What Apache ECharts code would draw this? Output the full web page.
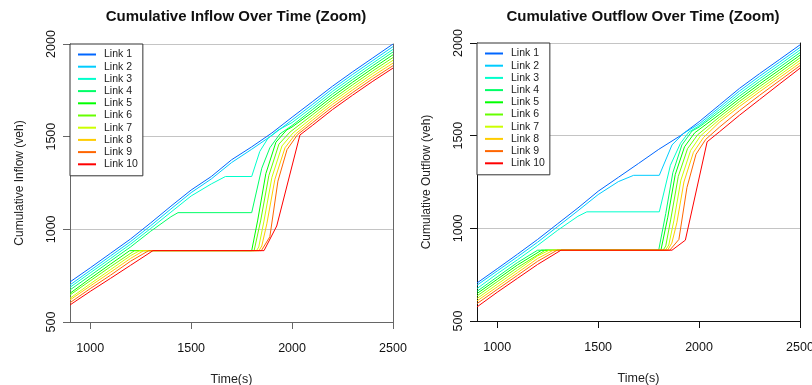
<!DOCTYPE html>
<html>
<head>
<meta charset="utf-8">
<script src="https://cdn.jsdelivr.net/npm/echarts@6/dist/echarts.min.js"></script>
<style>
  html, body { margin: 0; padding: 0; background: #fff; }
  #chart { width: 812px; height: 385px; }
</style>
</head>
<body>
<div id="chart"></div>
<script>
const linkNames = ['Link 1', 'Link 2', 'Link 3', 'Link 4', 'Link 5', 'Link 6', 'Link 7', 'Link 8', 'Link 9', 'Link 10'];
const linkColors = ['#0066FF', '#00CCFF', '#00FFCC', '#00FF66', '#00FF00', '#66FF00', '#CCFF00', '#FFCC00', '#FF6600', '#FF0000'];
const xTicks = [1000, 1500, 2000, 2500];

// cumulative inflow, [time, veh]
const inflowLink1 = [[900,716],[1000,792],[1100,870],[1200,948],[1300,1035],[1400,1125],[1500,1212],[1600,1285],[1700,1375],[1800,1445],[1900,1520],[2000,1605],[2100,1688],[2200,1772],[2300,1850],[2400,1925],[2500,2000]];
const inflowLink2 = [[900,700],[1000,778],[1100,856],[1200,934],[1300,1020],[1400,1110],[1500,1198],[1600,1272],[1700,1360],[1800,1432],[1900,1507],[2000,1590],[2100,1673],[2200,1758],[2300,1836],[2400,1911],[2500,1986]];
const inflowLink3 = [[900,687],[1000,765],[1100,842],[1200,920],[1300,1005],[1400,1093],[1500,1180],[1600,1245],[1670,1285],[1800,1285],[1840,1420],[1880,1490],[1930,1535],[2000,1576],[2100,1659],[2200,1744],[2300,1822],[2400,1897],[2500,1971]];
const inflowLink4 = [[900,673],[1000,750],[1100,828],[1200,905],[1300,990],[1400,1068],[1435,1090],[1800,1090],[1850,1330],[1890,1440],[1940,1515],[2000,1560],[2100,1645],[2200,1730],[2300,1808],[2400,1883],[2500,1957]];
const inflowLink5 = [[900,655],[1000,735],[1100,812],[1196,885],[1800,885],[1830,1050],[1870,1300],[1920,1470],[1973,1536],[2000,1552],[2100,1631],[2200,1716],[2300,1794],[2400,1869],[2500,1942]];
const inflowLink6 = [[900,646],[1000,722],[1100,798],[1220,885],[1812,885],[1845,1050],[1885,1290],[1935,1460],[1990,1525],[2100,1617],[2200,1702],[2300,1780],[2400,1855],[2500,1927]];
const inflowLink7 = [[900,628],[1000,706],[1100,782],[1200,858],[1245,885],[1824,885],[1835,905],[1860,1040],[1900,1280],[1950,1450],[2005,1520],[2100,1602],[2200,1688],[2300,1766],[2400,1841],[2500,1912]];
const inflowLink8 = [[900,619],[1000,694],[1100,768],[1200,843],[1265,885],[1836,885],[1850,910],[1875,1030],[1915,1270],[1965,1440],[2018,1515],[2100,1588],[2200,1674],[2300,1752],[2400,1827],[2500,1897]];
const inflowLink9 = [[900,604],[1000,680],[1100,752],[1200,828],[1290,885],[1848,885],[1890,960],[1930,1260],[1975,1430],[2028,1512],[2100,1574],[2200,1660],[2300,1738],[2400,1813],[2500,1883]];
const inflowLink10 = [[900,592],[1000,665],[1100,735],[1200,806],[1311,885],[1861,885],[1924,1018],[2039,1509],[2100,1560],[2200,1646],[2300,1724],[2400,1799],[2500,1870]];

// cumulative outflow, [time, veh]
const outflowLink1 = [[900,705],[1000,782],[1100,860],[1200,940],[1300,1025],[1400,1110],[1500,1200],[1600,1275],[1700,1350],[1800,1426],[1908,1500],[2000,1575],[2100,1665],[2200,1755],[2300,1835],[2400,1912],[2500,1990]];
const outflowLink2 = [[900,693],[1000,770],[1100,846],[1200,925],[1300,1010],[1400,1095],[1500,1182],[1600,1252],[1676,1286],[1803,1286],[1866,1450],[1924,1513],[2000,1563],[2100,1652],[2200,1741],[2300,1821],[2400,1898],[2500,1976]];
const outflowLink3 = [[900,675],[1000,755],[1100,830],[1200,908],[1300,990],[1400,1065],[1444,1089],[1803,1089],[1858,1340],[1908,1459],[1950,1520],[2000,1553],[2100,1640],[2200,1727],[2300,1807],[2400,1884],[2500,1962]];
const outflowLink4 = [[900,660],[1000,738],[1100,815],[1200,882],[1800,882],[1835,1080],[1870,1300],[1915,1450],[1965,1525],[2000,1546],[2100,1628],[2200,1713],[2300,1793],[2400,1870],[2500,1948]];
const outflowLink5 = [[900,648],[1000,725],[1100,802],[1220,882],[1811,882],[1845,1060],[1882,1290],[1928,1440],[1978,1515],[2100,1614],[2200,1699],[2300,1779],[2400,1856],[2500,1934]];
const outflowLink6 = [[900,635],[1000,712],[1100,788],[1238,882],[1822,882],[1835,905],[1860,1050],[1897,1280],[1943,1430],[1993,1505],[2100,1600],[2200,1685],[2300,1765],[2400,1842],[2500,1920]];
const outflowLink7 = [[900,621],[1000,698],[1100,774],[1200,851],[1258,882],[1833,882],[1850,910],[1875,1040],[1910,1260],[1958,1420],[2008,1500],[2100,1586],[2200,1671],[2300,1751],[2400,1828],[2500,1906]];
const outflowLink8 = [[900,608],[1000,684],[1100,760],[1200,837],[1278,882],[1844,882],[1865,920],[1890,1030],[1925,1250],[1972,1410],[2022,1490],[2100,1572],[2200,1657],[2300,1737],[2400,1814],[2500,1892]];
const outflowLink9 = [[900,594],[1000,670],[1100,746],[1200,822],[1297,882],[1855,882],[1900,940],[1940,1220],[1985,1400],[2033,1480],[2100,1545],[2200,1635],[2300,1718],[2400,1798],[2500,1878]];
const outflowLink10 = [[900,576],[1000,655],[1100,730],[1200,805],[1316,882],[1866,882],[1932,936],[2040,1467],[2100,1520],[2200,1610],[2300,1695],[2400,1780],[2500,1864]];

const inflowLinks = [inflowLink1, inflowLink2, inflowLink3, inflowLink4, inflowLink5, inflowLink6, inflowLink7, inflowLink8, inflowLink9, inflowLink10];
const outflowLinks = [outflowLink1, outflowLink2, outflowLink3, outflowLink4, outflowLink5, outflowLink6, outflowLink7, outflowLink8, outflowLink9, outflowLink10];

const font = '"Liberation Sans", Arial, sans-serif';
const plain = (v) => String(v);
const panels = [
  { title: 'Cumulative Inflow Over Time (Zoom)', yName: 'Cumulative Inflow (veh)', left: 70, top: 44, axisColor: '#666', data: inflowLinks },
  { title: 'Cumulative Outflow Over Time (Zoom)', yName: 'Cumulative Outflow (veh)', left: 477, top: 43, axisColor: '#111', data: outflowLinks }
];

const option = {
  animation: false,
  backgroundColor: '#fff',
  title: panels.map((p) => ({
    text: p.title,
    left: p.left + 161,
    top: 4,
    textAlign: 'center',
    textStyle: { fontSize: 15, fontWeight: 'bold', color: '#111', fontFamily: font }
  })),
  grid: panels.map((p) => ({ left: p.left, top: p.top, width: 323, height: 278, outerBoundsMode: 'none' })),
  legend: panels.map((p) => ({
    orient: 'vertical',
    left: p.left,
    top: p.top,
    padding: [5, 5, 6, 8],
    icon: 'rect',
    itemGap: 1.2,
    itemWidth: 18,
    itemHeight: 2,
    borderColor: '#333',
    borderWidth: 1,
    borderRadius: 0,
    backgroundColor: '#fff',
    data: linkNames,
    textStyle: { fontSize: 10.5, lineHeight: 10, color: '#222', fontFamily: font, padding: [0, 0, 0, 3] }
  })),
  xAxis: panels.map((p, i) => ({
    gridIndex: i,
    type: 'value',
    min: 900,
    max: 2500,
    name: 'Time(s)',
    nameLocation: 'middle',
    nameGap: 51,
    nameTextStyle: { fontSize: 12.5, color: '#222', fontFamily: font },
    axisLine: { show: true, onZero: false, lineStyle: { color: p.axisColor, width: 1 } },
    axisTick: { show: true, length: 7, customValues: xTicks, lineStyle: { color: p.axisColor } },
    axisLabel: { customValues: xTicks, formatter: plain, margin: 20, fontSize: 12.5, color: '#111', fontFamily: font },
    splitLine: { show: false }
  })),
  yAxis: [],
  series: []
};

panels.forEach((p, i) => {
  option.yAxis.push({
    gridIndex: i,
    type: 'value',
    position: 'left',
    min: 500,
    max: 2000,
    interval: 500,
    name: p.yName,
    nameLocation: 'middle',
    nameGap: 44,
    nameTextStyle: { fontSize: 12, color: '#222', fontFamily: font },
    axisLine: { show: true, lineStyle: { color: p.axisColor, width: 1 } },
    axisTick: { show: true, length: 7, lineStyle: { color: p.axisColor } },
    axisLabel: { rotate: 90, formatter: plain, margin: 12, fontSize: 12.5, color: '#111', fontFamily: font },
    splitLine: { show: true, lineStyle: { color: '#c4c4c4', width: 1 } }
  });
  // right border of the box
  option.yAxis.push({
    gridIndex: i,
    type: 'value',
    position: 'right',
    min: 500,
    max: 2000,
    axisLine: { show: true, lineStyle: { color: p.axisColor, width: 1 } },
    axisTick: { show: false },
    axisLabel: { show: false },
    splitLine: { show: false }
  });
  p.data.forEach((d, k) => {
    option.series.push({
      name: linkNames[k],
      type: 'line',
      xAxisIndex: i,
      yAxisIndex: i * 2,
      data: d,
      symbol: 'none',
      silent: true,
      lineStyle: { width: 1, color: linkColors[k] },
      itemStyle: { color: linkColors[k] }
    });
  });
});

const chart = echarts.init(document.getElementById('chart'));
chart.setOption(option);
</script>
</body>
</html>
